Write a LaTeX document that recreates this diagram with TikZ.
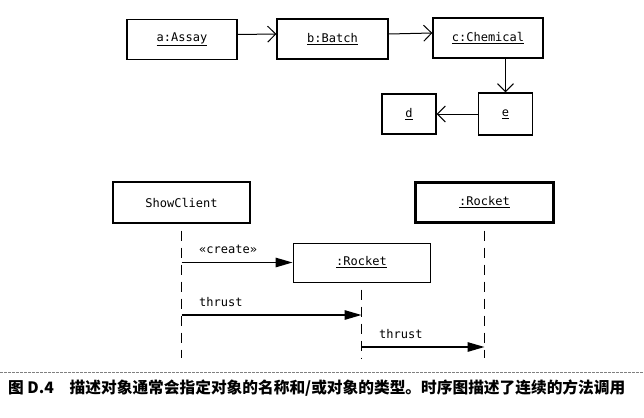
\documentclass[tikz,border=0pt]{standalone}
\usepackage{fontspec}
\setmonofont{DejaVu Sans Mono}
\newfontfamily\cjk{Noto Sans CJK SC}
\usetikzlibrary{arrows.meta}

\begin{document}
\begin{tikzpicture}[
  x=1pt,
  y=-1pt,
  object box/.style={
    draw,
    line width=1.3pt,
    minimum width=110pt,
    minimum height=40pt,
    inner sep=0pt,
    font=\ttfamily\fontsize{12}{14}\selectfont
  },
  small box/.style={
    object box,
    minimum width=54pt
  },
  active box/.style={
    object box,
    line width=3pt
  },
  link/.style={
    draw,
    line width=1pt,
    -{Straight Barb[length=8pt,width=16pt]}
  },
  message/.style={
    draw,
    line width=1.4pt,
    -{Triangle[length=17pt,width=9.5pt]}
  },
  life line/.style={
    draw,
    line width=1.5pt,
    dash pattern=on 10pt off 7pt,
    dash phase=10pt
  },
  msg label/.style={
    pos=0,
    anchor=south west,
    inner sep=0pt,
    xshift=17pt,
    yshift=8pt,
    font=\ttfamily\fontsize{12}{14}\selectfont
  },
]
\useasboundingbox (0,0) rectangle (644,417);

% collaboration
\node[object box] (a) at (182,39.5) {\underline{a:Assay}};
\node[object box, minimum width=111pt] (b) at (332.5,39) {\underline{b:Batch}};
\node[object box] (c) at (488,38) {\underline{c:Chemical}};
\node[small box] (d) at (409,114) {\underline{d}};
\node[small box, minimum height=42pt] (e) at (505.5,114) {\underline{e}};

\draw[link] ([yshift=5pt]a.east) -- ([yshift=5pt]b.west);
\draw[link] ([yshift=5pt]b.east) -- ([yshift=5pt]c.west);
\draw[link] (c.south -| e.north) -- (e.north);
\draw[link] (e.west) -- (d.east);

% sequence
\node[object box, minimum width=137pt, minimum height=41pt] (client) at (181.5,202.5) {ShowClient};
\node[active box, minimum width=138pt] (rocket) at (484.5,202) {\underline{:Rocket}};
\node[object box, minimum width=137pt, minimum height=39pt, line width=1pt] (newrocket) at (361.5,262.5) {\underline{:Rocket}};

\coordinate (end) at (0,358);
\coordinate (call1) at (0,315);
\coordinate (call2) at (0,347);

\draw[life line] (client.south) -- (client.south |- end);
\draw[life line] (newrocket.south) -- (newrocket.south |- end);
\draw[life line] (rocket.south) -- (rocket.south |- end);

\draw[message] (client.south |- newrocket.west) -- node[msg label] {«create»} (newrocket.west);
\draw[message] (client.south |- call1) -- node[msg label] {thrust} (newrocket.south |- call1);
\draw[message] (newrocket.south |- call2) -- node[msg label] {thrust} (rocket.south |- call2);

% caption
\draw[gray, line width=1pt, dash pattern=on 3pt off 1pt] (0,372) -- (644,372);
\node[anchor=west, inner sep=0pt, font=\cjk\bfseries\fontsize{15.7}{18}\selectfont] (caption) at (8,388)
  {图 D.4\hspace{1em}描述对象通常会指定对象的名称和/或对象的类型。时序图描述了连续的方法调用};
\end{tikzpicture}
\end{document}
